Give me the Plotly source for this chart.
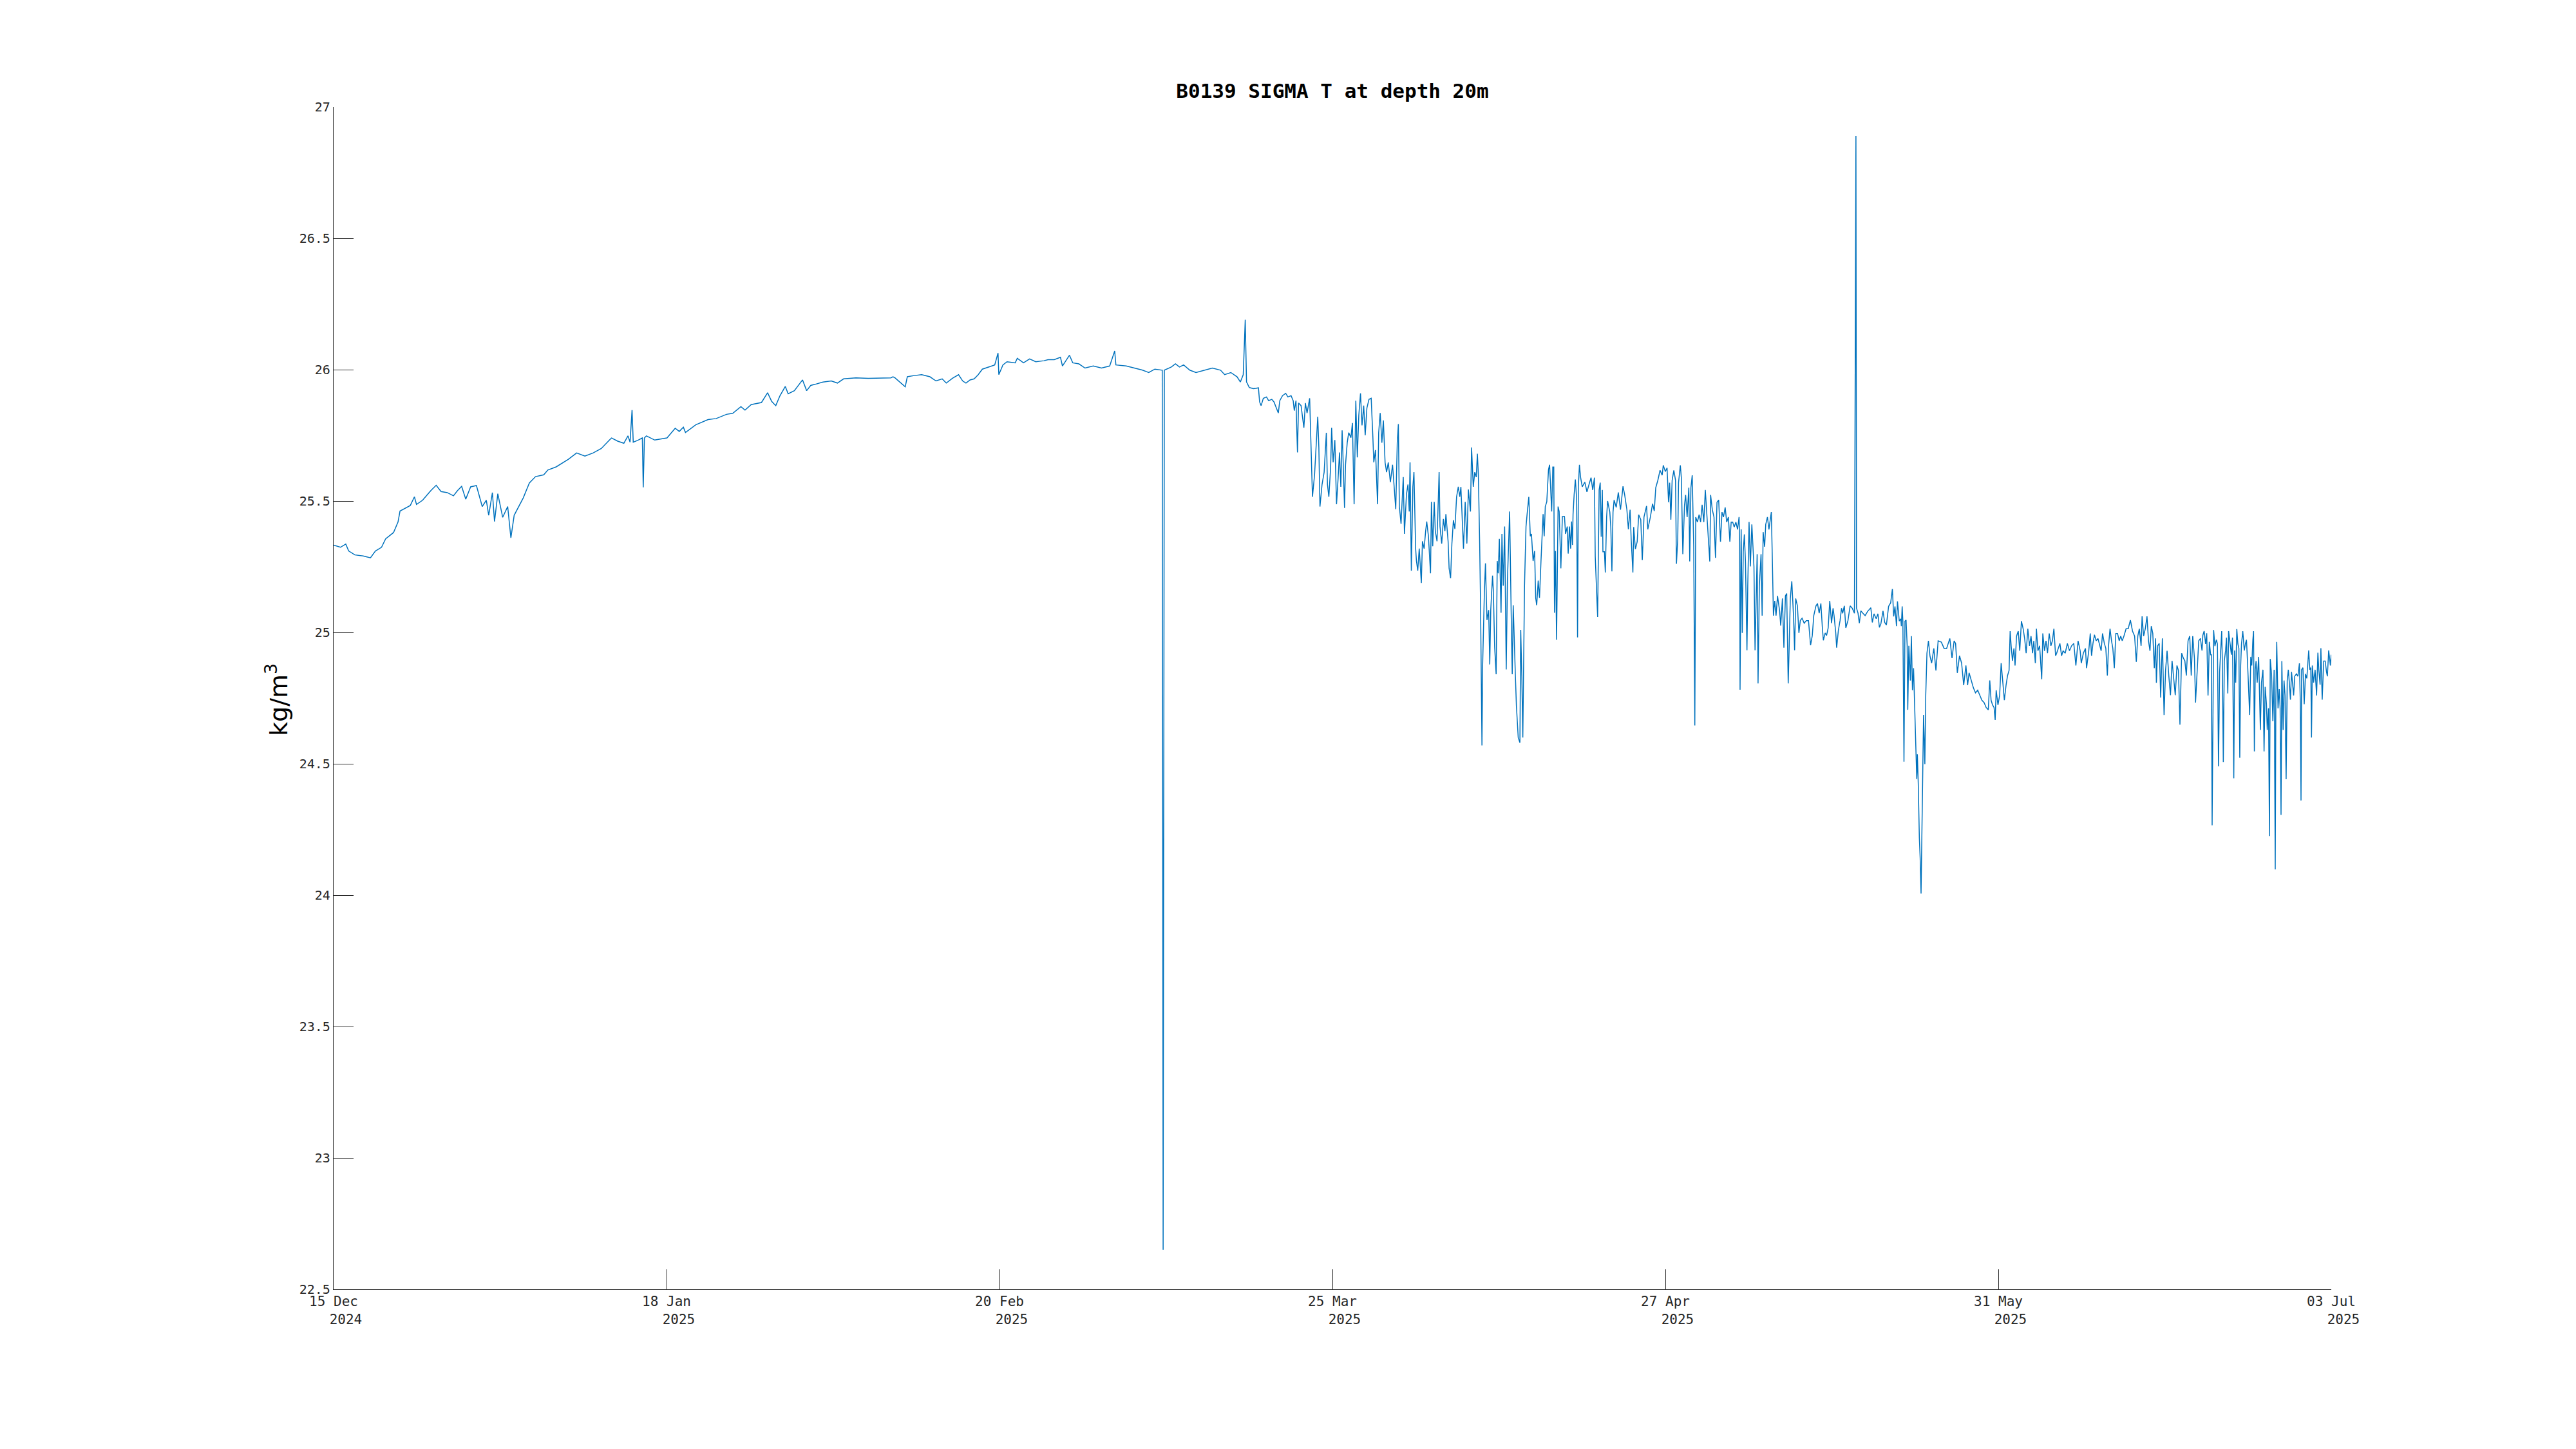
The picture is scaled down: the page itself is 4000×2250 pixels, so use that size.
import pandas as pd
import plotly.graph_objects as go

# ---------------- data ----------------
start_date = "2024-12-15"
end_date = "2025-07-03"

elapsed_days = [
    0.0, 0.69, 1.22, 1.51, 2.13, 2.95, 3.69, 4.19, 4.8, 5.21, 6.0, 6.45, 6.65, 7.06, 7.68, 8.09, 8.3, 8.91,
    9.74, 10.27, 10.76, 11.38, 12.0, 12.41, 12.82, 13.23, 13.72, 14.3, 14.88, 15.29, 15.53, 15.9, 16.11,
    16.44, 16.93, 17.43, 17.75, 18.08, 18.66, 18.99, 19.6, 20.22, 21.04, 21.45, 22.28, 23.51, 24.33, 25.16,
    25.98, 26.8, 27.62, 27.83, 28.44, 29.06, 29.47, 29.68, 29.88, 30.0, 30.5, 30.91, 31.0, 31.12, 31.32,
    32.15, 33.38, 34.2, 34.61, 35.02, 35.23, 36.26, 37.49, 38.31, 39.34, 39.96, 40.78, 41.19, 41.81, 42.84,
    43.45, 43.86, 44.27, 44.68, 45.22, 45.51, 46.13, 46.95, 47.36, 47.77, 48.18, 49.0, 49.83, 50.44, 51.06,
    52.29, 53.53, 54.76, 55.79, 56.0, 56.2, 57.23, 57.44, 58.05, 58.87, 59.7, 60.31, 60.93, 61.34, 61.96,
    62.57, 62.98,
    63.31, 63.72, 64.13, 64.54, 64.95, 65.57, 66.19, 66.52, 66.6, 67.01, 67.42, 68.24, 68.45, 69.07, 69.68,
    70.3, 71.12, 71.53, 72.15, 72.77, 72.97, 73.67, 74.0, 74.62, 75.23, 76.06, 76.88, 77.7, 78.2, 78.32,
    79.35, 80.17, 80.99, 81.61, 82.22, 82.96, 83.05, 83.17, 83.87, 84.28, 84.69, 85.1, 85.72, 86.34, 87.16,
    87.98, 88.8, 89.21, 89.83, 90.45, 90.78, 91.07, 91.27, 91.4, 91.68, 92.1,
    92.33, 92.59, 92.71, 92.86, 93.08, 93.4, 93.61, 93.93, 94.15, 94.36, 94.58, 94.73, 95.0, 95.32, 95.54,
    95.86, 96.07, 96.18, 96.35, 96.5, 96.61, 96.86, 97.03, 97.14, 97.29, 97.46, 97.72, 97.85, 98.0, 98.21,
    98.42, 98.53, 98.64, 98.75, 98.96, 99.17, 99.39, 99.5, 99.64, 99.82, 99.92, 100.07, 100.24, 100.41,
    100.56, 100.71, 100.84, 100.97, 101.1, 101.21, 101.31, 101.48, 101.63, 101.85, 102.0, 102.17, 102.34,
    102.49, 102.64, 102.81, 102.96, 103.13, 103.28, 103.45, 103.66, 103.88, 104.05, 104.14, 104.31, 104.52,
    104.63, 104.78, 104.95, 105.1, 105.27, 105.42, 105.59, 105.8, 106.02, 106.19, 106.34, 106.49, 106.6,
    106.7, 106.87, 107.09, 107.21, 107.41, 107.56, 107.69, 107.77, 107.9, 108.05, 108.16, 108.33, 108.41,
    108.54, 108.69, 108.8, 108.9, 109.01, 109.18, 109.33, 109.44, 109.61, 109.82, 109.91, 110.04, 110.19,
    110.3, 110.47, 110.55, 110.68, 110.77, 110.94, 111.11, 111.26, 111.36, 111.58, 111.68, 111.83, 111.96,
    112.11, 112.26, 112.43, 112.6, 112.75, 112.86, 112.99, 113.12, 113.29, 113.46, 113.61, 113.82, 113.93,
    114.1, 114.25, 114.4, 114.51, 114.61, 114.74, 114.83, 114.97, 115.04, 115.21, 115.32, 115.47, 115.64,
    115.75, 115.85, 116.03, 116.11, 116.24, 116.39, 116.5, 116.6, 116.71, 116.88, 116.97, 117.1, 117.24,
    117.4, 117.52, 117.74, 117.89, 118.0, 118.1, 118.21, 118.31, 118.42, 118.6, 118.77, 118.85, 118.96,
    119.06, 119.23, 119.38, 119.49, 119.66, 119.81, 119.92, 120.09, 120.24, 120.35, 120.45, 120.6, 120.73,
    120.88, 121.09, 121.2, 121.31, 121.46, 121.63, 121.74, 121.84, 121.95, 122.06, 122.16, 122.23, 122.33,
    122.44, 122.59, 122.7, 122.87, 123.02, 123.23, 123.34, 123.51, 123.6, 123.73, 123.85, 123.94, 124.03,
    124.09, 124.2, 124.32, 124.45, 124.54, 124.62, 124.73, 124.84, 125.01, 125.27, 125.48, 125.69,
    125.89, 126.06, 126.23, 126.31, 126.55, 126.7, 126.81, 126.91, 127.02, 127.08, 127.23, 127.32, 127.45,
    127.55, 127.77, 127.87, 127.98, 128.09, 128.2, 128.41, 128.62, 128.84, 129.09, 129.26, 129.48, 129.63,
    129.8, 129.91, 130.08, 130.16, 130.33, 130.51, 130.66, 130.87, 131.02, 131.19, 131.45, 131.57, 131.83,
    132.05, 132.22, 132.37, 132.58, 132.8, 133.01, 133.12, 133.33, 133.5, 133.65, 133.76, 133.88, 134.01,
    134.18, 134.35, 134.44, 134.57, 134.65, 134.83, 134.93, 135.08, 135.25, 135.36, 135.51, 135.68, 135.77,
    135.89, 136.02, 136.17, 136.28, 136.37, 136.54, 136.71, 136.86, 137.01, 137.18, 137.33, 137.5, 137.65,
    137.78, 137.86, 138.03, 138.2, 138.35, 138.5, 138.67, 138.85, 139.0, 139.15, 139.32, 139.47, 139.64,
    139.79, 139.92, 140.07, 140.22, 140.39, 140.56, 140.71, 140.77, 140.81, 140.92, 141.03, 141.13, 141.24,
    141.35, 141.5, 141.58, 141.71, 141.84, 141.99, 142.1, 142.2, 142.31, 142.42, 142.52, 142.61, 142.74,
    142.91, 143.02, 143.12, 143.27, 143.38, 143.55, 143.7, 143.85, 143.94, 144.02, 144.15, 144.28, 144.41,
    144.56, 144.77, 144.88, 145.05, 145.2, 145.35, 145.48, 145.63, 145.73, 145.84, 145.99, 146.16, 146.27,
    146.38, 146.55, 146.7, 146.84, 147.02, 147.23, 147.44, 147.66, 147.87, 148.04, 148.19, 148.41, 148.56,
    148.73, 148.9, 149.05, 149.15, 149.33, 149.47, 149.63, 149.79, 149.97, 150.12, 150.22, 150.39, 150.48,
    150.65, 150.82, 150.97, 151.08, 151.25, 151.4, 151.61, 151.83, 152.04, 152.26, 152.41, 152.47, 152.62,
    152.75, 152.9, 153.11, 153.33,
    153.58, 153.9, 154.05, 154.22, 154.44, 154.61, 154.76, 154.91, 155.12, 155.29, 155.46, 155.68, 155.89,
    156.06, 156.19, 156.32, 156.47, 156.57, 156.75, 156.9, 156.96, 157.04, 157.11, 157.22, 157.32, 157.43,
    157.54, 157.6, 157.71, 157.86, 157.96, 158.07, 158.18, 158.29, 158.39, 158.5, 158.56, 158.65, 158.76,
    158.84, 158.93, 158.99, 159.1, 159.18, 159.31, 159.4, 159.52, 159.67, 159.82, 159.99, 160.21, 160.42,
    160.64, 160.96, 161.24, 161.49, 161.81, 162.03, 162.24, 162.39, 162.56, 162.78, 162.99, 163.2, 163.42,
    163.59, 163.74, 163.95, 164.17, 164.38, 164.6, 164.81, 165.02, 165.24, 165.45, 165.66, 165.81, 165.94,
    166.09, 166.24, 166.35, 166.45, 166.63, 166.8, 166.95, 167.1, 167.27, 167.44, 167.59, 167.74, 167.85,
    167.95, 168.08, 168.23, 168.34, 168.49, 168.66, 168.81, 168.98, 169.15, 169.3, 169.45, 169.62, 169.79,
    169.94, 170.09, 170.22, 170.37, 170.48, 170.63, 170.8, 171.01, 171.12, 171.29, 171.44, 171.59, 171.76,
    171.93, 172.08, 172.23, 172.4, 172.51, 172.66, 172.83, 173.0, 173.15, 173.36, 173.58, 173.79, 174.0,
    174.22, 174.43, 174.65, 174.86, 174.97, 175.18, 175.39, 175.5, 175.72, 175.87, 176.0, 176.14, 176.29,
    176.46, 176.64, 176.78, 176.96, 177.1, 177.28, 177.43, 177.58, 177.7, 177.85, 178.0, 178.13, 178.28,
    178.43, 178.6, 178.77, 178.92, 179.07, 179.24, 179.46, 179.67, 179.89, 180.1, 180.31, 180.48, 180.63,
    180.78, 180.96, 181.06, 181.21, 181.38, 181.55, 181.7, 181.85, 181.98, 182.13, 182.28, 182.41, 182.49,
    182.62, 182.77, 182.92, 183.09, 183.26, 183.41, 183.56, 183.73, 183.9, 184.06, 184.21, 184.38, 184.55,
    184.7, 184.85, 185.02, 185.19, 185.34, 185.49, 185.66, 185.83, 185.98, 186.13, 186.3, 186.41, 186.56,
    186.73, 186.9,
    187.06, 187.14, 187.27, 187.42, 187.53, 187.66, 187.79, 187.92, 188.0, 188.07, 188.13, 188.22, 188.35,
    188.5, 188.6, 188.71, 188.82, 188.93, 189.03, 189.1, 189.19, 189.29, 189.42, 189.51, 189.64, 189.72,
    189.85, 190.0, 190.11, 190.24, 190.32, 190.43, 190.54, 190.65, 190.75, 190.84, 190.93, 191.01, 191.14,
    191.29, 191.4, 191.51, 191.61, 191.72, 191.83, 191.94, 192.04, 192.15, 192.22, 192.3, 192.39, 192.47,
    192.58, 192.73, 192.9, 193.01, 193.16, 193.27, 193.38, 193.51, 193.59, 193.72, 193.81, 193.89, 194.02,
    194.15, 194.28, 194.39, 194.45, 194.54, 194.67, 194.79, 194.88, 194.97, 195.05, 195.18, 195.27, 195.37,
    195.48, 195.59, 195.7, 195.8, 195.91, 196.02, 196.13, 196.23, 196.34, 196.51, 196.66, 196.81, 196.9,
    196.97, 197.03, 197.16, 197.29, 197.42, 197.55, 197.74, 197.85, 197.95, 198.02, 198.1, 198.23, 198.38,
    198.53, 198.66, 198.75, 198.88, 198.96, 199.09, 199.24, 199.39, 199.52, 199.61, 199.74, 199.82, 199.91,
    199.99,
]

sigma_t = [
    25.332, 25.324, 25.336, 25.31, 25.295, 25.291, 25.284, 25.31, 25.324, 25.356, 25.38, 25.42, 25.462, 25.47,
    25.483, 25.516, 25.487, 25.503, 25.54, 25.56, 25.536, 25.532, 25.52, 25.54, 25.556, 25.507, 25.554,
    25.559, 25.479, 25.503, 25.446, 25.532, 25.422, 25.528, 25.438, 25.479, 25.36, 25.446, 25.487, 25.512,
    25.569, 25.593, 25.6, 25.618, 25.63, 25.659, 25.683, 25.671, 25.683, 25.7, 25.732, 25.74, 25.728, 25.72,
    25.748, 25.724, 25.846, 25.724, 25.732, 25.74, 25.552, 25.74, 25.748, 25.732, 25.74, 25.777, 25.765,
    25.781, 25.761, 25.79, 25.81, 25.814, 25.83, 25.834, 25.859, 25.846, 25.867, 25.875, 25.912, 25.879,
    25.863, 25.9, 25.936, 25.908, 25.92, 25.961, 25.92, 25.94, 25.944, 25.953, 25.957, 25.949, 25.965,
    25.969, 25.967, 25.969, 25.969, 25.973, 25.969, 25.935, 25.973, 25.977, 25.981, 25.973, 25.957, 25.965,
    25.949, 25.967, 25.981, 25.957,
    25.949, 25.961, 25.965, 25.981, 26.002, 26.01, 26.018, 26.063, 25.981, 26.018, 26.03, 26.026, 26.043,
    26.026, 26.041, 26.03, 26.034, 26.038, 26.038, 26.047, 26.014, 26.055, 26.026, 26.022, 26.006, 26.014,
    26.006, 26.014, 26.071, 26.018, 26.014, 26.006, 25.998, 25.989, 26.002, 25.998, 22.65, 25.998, 26.01,
    26.022, 26.01, 26.018, 25.998, 25.989, 25.998, 26.006, 25.998, 25.981, 25.989, 25.973, 25.953, 25.981,
    26.19, 25.953, 25.932, 25.928,
    25.929, 25.931, 25.877, 25.863, 25.891, 25.896, 25.882, 25.887, 25.877, 25.854, 25.835, 25.882, 25.901,
    25.91, 25.896, 25.901, 25.882, 25.844, 25.882, 25.685, 25.873, 25.863, 25.807, 25.779, 25.873, 25.835,
    25.891, 25.685, 25.516, 25.6, 25.741, 25.821, 25.704, 25.479, 25.563, 25.61, 25.76, 25.563, 25.516,
    25.629, 25.779, 25.647, 25.732, 25.488, 25.582, 25.685, 25.554, 25.769, 25.619, 25.474, 25.638, 25.722,
    25.76, 25.741, 25.797, 25.488, 25.882, 25.666, 25.826, 25.91, 25.788, 25.863, 25.75, 25.854, 25.887,
    25.891, 25.741, 25.647, 25.694, 25.488, 25.76, 25.835, 25.722, 25.807, 25.647, 25.61, 25.647, 25.572,
    25.638, 25.554, 25.469, 25.722, 25.793, 25.479, 25.413, 25.591, 25.375, 25.525, 25.563, 25.46, 25.647,
    25.235, 25.554, 25.61, 25.319, 25.272, 25.235, 25.319, 25.263, 25.188, 25.347, 25.319, 25.385, 25.422,
    25.366, 25.225, 25.497, 25.328, 25.497, 25.385, 25.347, 25.46, 25.61, 25.403, 25.338, 25.432, 25.385,
    25.45, 25.347, 25.244, 25.206, 25.338, 25.427, 25.394, 25.516, 25.554, 25.516, 25.554, 25.441, 25.319,
    25.497, 25.338, 25.544, 25.46, 25.704, 25.554, 25.61, 25.591, 25.68, 25.601, 25.338, 25.103, 24.57,
    24.88, 25.15, 25.263, 25.047, 25.085, 24.878, 25.085, 25.216, 25.159, 24.944, 24.841, 25.272, 25.225,
    25.356, 25.075, 25.375, 25.178, 25.403, 24.859, 25.197, 25.46, 25.085, 24.841, 25.103, 24.991, 24.841,
    24.72, 24.6, 24.58, 25.01, 24.833, 24.6, 25.178, 25.403, 25.45, 25.516, 25.366, 25.375, 25.272, 25.31,
    25.131, 25.103, 25.197, 25.131, 25.272, 25.45, 25.366, 25.479, 25.497, 25.619, 25.638, 25.535, 25.46,
    25.629, 25.629, 25.075, 25.31, 24.972, 25.479, 25.46, 25.244, 25.441, 25.441, 25.375, 25.403, 25.3,
    25.403, 25.319, 25.422, 25.333, 25.45, 25.525, 25.582, 25.507, 24.981, 25.554, 25.638, 25.591, 25.554,
    25.572, 25.535, 25.563,
    25.589, 25.542, 25.589, 25.289, 25.059, 25.542, 25.57, 25.364, 25.542, 25.307, 25.307, 25.228, 25.439,
    25.5, 25.458, 25.401, 25.232, 25.458, 25.504, 25.476, 25.533, 25.467, 25.556, 25.523, 25.467, 25.392,
    25.467, 25.354, 25.228, 25.401, 25.317, 25.345, 25.448, 25.429, 25.275, 25.439, 25.481, 25.392, 25.439,
    25.49, 25.462, 25.551, 25.579, 25.617, 25.598, 25.636, 25.612, 25.626, 25.495, 25.57, 25.429, 25.579,
    25.617, 25.579, 25.261, 25.354, 25.57, 25.636, 25.589, 25.298, 25.486, 25.523, 25.439, 25.551, 25.27,
    25.551, 25.598, 25.326, 24.646, 25.439, 25.42, 25.448, 25.42, 25.486, 25.42, 25.542, 25.439, 25.331,
    25.27, 25.523, 25.467, 25.439, 25.284, 25.495, 25.504, 25.345, 25.458, 25.439, 25.476, 25.42, 25.439,
    25.345, 25.42, 25.42, 25.401, 25.42, 25.392, 25.439, 25.345, 24.782, 25.392, 24.998, 25.307, 25.373,
    25.27, 24.932, 25.176, 25.42, 25.251, 25.411, 25.307, 25.251, 24.932, 25.139, 25.298, 24.806, 25.176,
    25.298, 25.064, 25.382, 25.326, 25.411, 25.439, 25.392, 25.439, 25.458, 25.317, 25.064, 25.12, 25.064,
    25.139, 25.082, 25.026, 25.129, 24.942, 25.139, 25.148, 24.806, 24.951, 25.129, 25.195, 25.064, 24.932,
    25.129, 25.101, 24.998, 25.045, 25.054, 25.035, 25.045, 25.045, 24.951, 24.988, 25.064, 25.101, 25.11,
    25.073, 25.11, 25.017, 24.97, 24.998, 24.988, 25.017, 25.12, 25.035, 25.092, 25.064, 24.998, 24.942,
    25.007, 25.045, 25.092, 25.073, 25.101, 25.017, 25.045, 25.101, 25.092, 25.073, 26.89, 25.092, 25.073,
    25.035, 25.082, 25.073, 25.064,
    25.08, 25.094, 25.038, 25.071, 25.052, 25.071, 25.019, 25.033, 25.082, 25.038, 25.028, 25.099, 25.113,
    25.165, 25.061, 25.099, 25.024, 25.118, 25.043, 25.052, 25.024, 25.099, 25.043, 24.508, 25.043, 25.047,
    24.949, 24.705, 24.949, 24.817, 24.986, 24.78, 24.864, 24.705, 24.574, 24.442, 24.536, 24.424, 24.217,
    24.142, 24.006, 24.208, 24.499, 24.686, 24.499, 24.761, 24.921, 24.968, 24.911, 24.883, 24.939, 24.855,
    24.968, 24.963, 24.939, 24.939, 24.977, 24.902, 24.968, 24.958, 24.846, 24.911, 24.883, 24.799, 24.874,
    24.799, 24.846, 24.817, 24.789, 24.77, 24.78, 24.761, 24.742, 24.733, 24.714, 24.705, 24.817, 24.742,
    24.724, 24.714, 24.667, 24.78, 24.724, 24.761, 24.883, 24.817, 24.742, 24.799, 24.836, 24.855, 25.005,
    24.949, 24.892, 24.939, 24.874, 24.986, 25.005, 24.93, 25.043, 25.014, 24.977, 24.921, 25.014, 24.949,
    24.986, 24.921, 24.968, 24.883, 25.014, 24.93, 24.949, 24.822, 24.996, 24.93, 24.968, 24.921, 24.996,
    24.949, 24.968, 25.014, 24.911, 24.921, 24.939, 24.958, 24.911, 24.93, 24.921, 24.958, 24.93, 24.949,
    24.958, 24.874, 24.968, 24.93, 24.883, 24.921, 24.939, 24.864, 24.93, 24.996, 24.911, 24.958, 24.991,
    24.968, 24.977, 24.958, 24.93, 24.996, 24.958, 24.939, 24.836, 24.949, 25.014, 24.968, 24.939, 24.864,
    24.996, 24.996, 24.968, 24.986, 24.968, 24.986, 25.014, 25.014, 25.047, 25.005, 24.986, 24.888, 24.986,
    25.014, 24.949, 25.061, 24.986, 25.014, 25.061, 24.968, 24.93, 25.024, 24.996, 24.864, 24.977, 24.808,
    24.949, 24.958, 24.752, 24.977, 24.686, 24.855, 24.93, 24.836, 24.761, 24.892, 24.836, 24.761, 24.874,
    24.855, 24.649, 24.921, 24.902, 24.892, 24.836, 24.968, 24.986, 24.836, 24.986, 24.902, 24.733, 24.836,
    24.968, 24.977,
    24.931, 24.989, 25.005, 24.956, 24.997, 24.76, 24.964, 24.915, 24.915, 24.266, 24.547, 25.009, 24.948,
    24.972, 24.956, 24.49, 24.85, 24.94, 25.005, 24.874, 24.507, 24.891, 24.931, 24.98, 24.768, 25.005,
    24.964, 24.915, 24.98, 24.445, 24.931, 24.809, 25.013, 24.956, 24.94, 24.523, 24.874, 24.956, 25.005,
    24.931, 24.956, 24.972, 24.891, 24.768, 24.686, 24.907, 24.874, 24.972, 25.005, 24.547, 24.858, 24.891,
    24.809, 24.907, 24.629, 24.809, 24.858, 24.547, 24.793, 24.727, 24.629, 24.711, 24.225, 24.899, 24.842,
    24.662, 24.858, 24.098, 24.744, 24.964, 24.711, 24.784, 24.711, 24.306, 24.891, 24.629, 24.817, 24.76,
    24.441, 24.817, 24.858, 24.809, 24.744, 24.85, 24.793, 24.76, 24.833, 24.842, 24.833, 24.882, 24.735,
    24.36, 24.858, 24.866, 24.727, 24.842, 24.825, 24.931, 24.858, 24.866, 24.6, 24.874, 24.809, 24.858,
    24.76, 24.923, 24.858, 24.801, 24.94, 24.744, 24.891, 24.891, 24.85, 24.833, 24.931, 24.907, 24.874,
    24.915,
]

y_tick_values = [22.5, 23, 23.5, 24, 24.5, 25, 25.5, 26, 26.5, 27]
y_tick_labels = ["22.5", "23", "23.5", "24", "24.5", "25", "25.5", "26", "26.5", "27"]
x_tick_days = ["15 Dec", "18 Jan", "20 Feb", "25 Mar", "27 Apr", "31 May", "03 Jul"]
x_tick_years = ["2024", "2025", "2025", "2025", "2025", "2025", "2025"]

title_text = "B0139 SIGMA T at depth 20m"
y_label = "kg/m<sup>3</sup>"

# ---------------- build ----------------
t0 = pd.Timestamp(start_date)
t1 = pd.Timestamp(end_date)
times = t0 + pd.to_timedelta(elapsed_days, unit="D")
span = (t1 - t0)
n_ticks = len(x_tick_days)
x_tick_vals = [t0 + span * k / (n_ticks - 1) for k in range(n_ticks)]
x_tick_text = [f"{d}<br>\u00a0\u00a0\u00a0{y}" for d, y in zip(x_tick_days, x_tick_years)]

AX = "#262626"
LINE = "#0072BD"

fig = go.Figure()
fig.add_trace(go.Scatter(
    x=times, y=sigma_t, mode="lines",
    line=dict(color=LINE, width=1.5),
    showlegend=False, hoverinfo="skip",
))

# page has an 8px body margin; compensate so the plot area lands at page px 518..3620 x 166..2002
OFF = 8
W, H = 4000 - 2 * OFF, 2250 - 2 * OFF
L, R, T, B = 518 - OFF, 3620 - OFF, 166 - OFF, 2002 - OFF

fig.update_layout(
    width=W, height=H, autosize=False,
    paper_bgcolor="white", plot_bgcolor="white",
    margin=dict(l=L, r=W - R, t=T, b=H - B, pad=0),
    showlegend=False,
    title=dict(
        text="<b>" + title_text + "</b>",
        x=(L + R) / 2 / W, xref="container", xanchor="center",
        y=1 - (141 - OFF) / H, yref="container", yanchor="middle",
        font=dict(family="DejaVu Sans Mono", size=31, color="black"),
    ),
    font=dict(family="DejaVu Sans Mono", size=20, color=AX),
)

fig.update_xaxes(
    type="date", range=[t0, t1],
    tickmode="array", tickvals=x_tick_vals, ticktext=x_tick_text,
    ticks="inside", ticklen=31, tickwidth=1.3, tickcolor=AX,
    showline=True, linecolor=AX, linewidth=1.3, mirror=False,
    showgrid=False, zeroline=False,
    tickfont=dict(family="DejaVu Sans Mono", size=21, color=AX),
    tickangle=0,
)
fig.update_yaxes(
    range=[22.5, 27],
    tickmode="array", tickvals=y_tick_values, ticktext=y_tick_labels,
    ticks="inside", ticklen=31, tickwidth=1.3, tickcolor=AX,
    showline=True, linecolor=AX, linewidth=1.3, mirror=False,
    showgrid=False, zeroline=False,
    tickfont=dict(family="DejaVu Sans Mono", size=20, color=AX),
)

fig.add_annotation(
    text=y_label, textangle=-90,
    xref="paper", yref="paper",
    x=(430 - 518) / (3620 - 518), y=(2002 - 1087) / (2002 - 166),
    xanchor="center", yanchor="middle", showarrow=False,
    font=dict(family="DejaVu Sans", size=38, color="black"),
)

fig.write_html("out.html")
